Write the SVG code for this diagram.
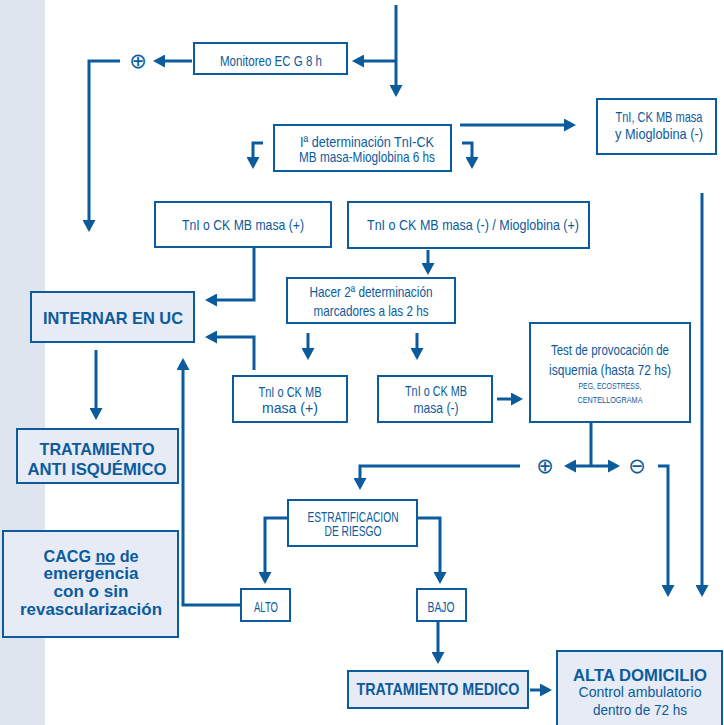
<svg xmlns="http://www.w3.org/2000/svg" width="724" height="725" viewBox="0 0 724 725">
<style>
.box{fill:#ffffff;stroke:#0b5b9d;stroke-width:2}
.fbox{fill:#e6ebf5;stroke:#0b5b9d;stroke-width:2}
.t{font-family:"Liberation Sans",Arial,sans-serif;font-size:15px;fill:#0b5b9d;text-anchor:middle}
.b{font-family:"Liberation Sans",Arial,sans-serif;font-weight:bold;font-size:17px;fill:#0b5b9d;text-anchor:middle}
.s{font-family:"Liberation Sans",Arial,sans-serif;font-size:9px;fill:#0b5b9d;text-anchor:middle}
.sym{font-family:"DejaVu Sans",sans-serif;font-size:21px;fill:#0b5b9d;text-anchor:middle}
.c{fill:none;stroke:#0b5b9d;stroke-width:3;marker-end:url(#ah)}
.cn{fill:none;stroke:#0b5b9d;stroke-width:3}
</style>
<defs>
<marker id="ah" markerUnits="userSpaceOnUse" markerWidth="13" markerHeight="13" refX="9" refY="6.5" orient="auto">
<path d="M0,0 L12,6.5 L0,13 z" fill="#0b5b9d"/>
</marker>
</defs>
<rect x="0" y="0" width="45" height="725" fill="#dfe5ef"/>

<g id="connectors">
<path class="cn" d="M396,5 V61"/>
<path class="c" d="M396,61 V94"/>
<path class="c" d="M396,61 H355"/>
<path class="c" d="M192,61 H156"/>
<path class="c" d="M120,61 H89 V229"/>
<path class="c" d="M263,143 H253 V166"/>
<path class="c" d="M462,143 H472 V166"/>
<path class="c" d="M460,125 H573"/>
<path class="c" d="M702,193 V594"/>
<path class="c" d="M254,248 V300 H208"/>
<path class="c" d="M428,250 V272"/>
<path class="c" d="M308,333 V357"/>
<path class="c" d="M417,333 V357"/>
<path class="c" d="M254,370 V337 H208"/>
<path class="c" d="M497,399 H520"/>
<path class="c" d="M96,350 V417"/>
<path class="cn" d="M591,422 V466"/>
<path class="c" d="M591,466 H567"/>
<path class="c" d="M591,466 H617"/>
<path class="c" d="M520,466 H360 V487"/>
<path class="c" d="M658,466 H668 V594"/>
<path class="c" d="M288,518 H265 V581"/>
<path class="c" d="M417,518 H440 V581"/>
<path class="c" d="M241,605 H183 V361"/>
<path class="c" d="M438,621 V661"/>
<path class="c" d="M530,690 H549"/>
<text class="sym" x="138" y="68">⊕</text>
<text class="sym" x="545" y="473">⊕</text>
<text class="sym" x="637" y="473">⊖</text>
</g>

<g id="monitoreo">
<rect class="box" x="194" y="43" width="153" height="31"/>
<text class="t" x="271" y="66" font-size="16" textLength="102" lengthAdjust="spacingAndGlyphs">Monitoreo EC G 8 h</text>
</g>

<g id="determinacion1">
<rect class="box" x="274" y="125" width="177" height="46"/>
<text class="t" x="367" y="147" textLength="134" lengthAdjust="spacingAndGlyphs">Iª  determinación  TnI-CK</text>
<text class="t" x="367" y="162" textLength="136" lengthAdjust="spacingAndGlyphs">MB masa-Mioglobina 6 hs</text>
</g>

<g id="negativos">
<rect class="box" x="597" y="99" width="119" height="55"/>
<text class="t" x="659" y="122" textLength="87" lengthAdjust="spacingAndGlyphs">TnI, CK MB masa</text>
<text class="t" x="659" y="139" textLength="88" lengthAdjust="spacingAndGlyphs">y Mioglobina (-)</text>
</g>

<g id="tni-pos">
<rect class="box" x="155" y="202" width="176" height="45"/>
<text class="t" x="243" y="230" font-size="16" textLength="122" lengthAdjust="spacingAndGlyphs">TnI o CK MB masa (+)</text>
</g>

<g id="tni-neg-mio-pos">
<rect class="box" x="348" y="202" width="241" height="46"/>
<text class="t" x="473" y="230" font-size="16" textLength="212" lengthAdjust="spacingAndGlyphs">TnI o CK MB masa (-) / Mioglobina (+)</text>
</g>

<g id="hacer2">
<rect class="box" x="287" y="278" width="168" height="45"/>
<text class="t" x="371" y="297" textLength="123" lengthAdjust="spacingAndGlyphs">Hacer 2ª determinación</text>
<text class="t" x="371" y="316" textLength="115" lengthAdjust="spacingAndGlyphs">marcadores a las 2 hs</text>
</g>

<g id="internar">
<rect class="fbox" x="31" y="292" width="163" height="50"/>
<text class="b" x="113" y="324" font-size="19" textLength="140" lengthAdjust="spacingAndGlyphs">INTERNAR EN UC</text>
</g>

<g id="tni2-pos">
<rect class="box" x="233" y="376" width="114" height="46"/>
<text class="t" x="290" y="397" textLength="63" lengthAdjust="spacingAndGlyphs">TnI o CK MB</text>
<text class="t" x="290" y="413" textLength="56" lengthAdjust="spacingAndGlyphs">masa (+)</text>
</g>

<g id="tni2-neg">
<rect class="box" x="378" y="376" width="114" height="46"/>
<text class="t" x="436" y="396" textLength="62" lengthAdjust="spacingAndGlyphs">TnI o CK MB</text>
<text class="t" x="436" y="413" textLength="45" lengthAdjust="spacingAndGlyphs">masa (-)</text>
</g>

<g id="test">
<rect class="box" x="530" y="323" width="160" height="99"/>
<text class="t" x="610" y="355" font-size="16" textLength="118" lengthAdjust="spacingAndGlyphs">Test de provocación de</text>
<text class="t" x="610" y="375" font-size="16" textLength="122" lengthAdjust="spacingAndGlyphs">isquemia (hasta 72 hs)</text>
<text class="s" x="610" y="389" textLength="63" lengthAdjust="spacingAndGlyphs">PEG, ECOSTRESS,</text>
<text class="s" x="610" y="403" textLength="65" lengthAdjust="spacingAndGlyphs">CENTELLOGRAMA</text>
</g>

<g id="tratamiento-anti">
<rect class="fbox" x="17" y="429" width="161" height="54"/>
<text class="b" x="97" y="455" textLength="115" lengthAdjust="spacingAndGlyphs">TRATAMIENTO</text>
<text class="b" x="97" y="475" textLength="139" lengthAdjust="spacingAndGlyphs">ANTI ISQUÉMICO</text>
</g>

<g id="estratificacion">
<rect class="box" x="288" y="500" width="129" height="46"/>
<text class="t" x="353" y="522" font-size="14" textLength="91" lengthAdjust="spacingAndGlyphs">ESTRATIFICACION</text>
<text class="t" x="353" y="536" font-size="14" textLength="57" lengthAdjust="spacingAndGlyphs">DE RIESGO</text>
</g>

<g id="cacg">
<rect class="fbox" x="3" y="531" width="175" height="106"/>
<text class="b" x="91" y="562" textLength="95" lengthAdjust="spacingAndGlyphs">CACG <tspan style="text-decoration:underline">no</tspan> de</text>
<text class="b" x="91" y="579" textLength="95" lengthAdjust="spacingAndGlyphs">emergencia</text>
<text class="b" x="91" y="597" textLength="75" lengthAdjust="spacingAndGlyphs">con o sin</text>
<text class="b" x="91" y="615" textLength="142" lengthAdjust="spacingAndGlyphs">revascularización</text>
</g>

<g id="alto">
<rect class="box" x="241" y="589" width="49" height="32"/>
<text class="t" x="266" y="612" textLength="24" lengthAdjust="spacingAndGlyphs">ALTO</text>
</g>

<g id="bajo">
<rect class="box" x="417" y="589" width="49" height="32"/>
<text class="t" x="441" y="612" textLength="27" lengthAdjust="spacingAndGlyphs">BAJO</text>
</g>

<g id="tratamiento-medico">
<rect class="fbox" x="348" y="671" width="180" height="37"/>
<text class="b" x="438" y="695" textLength="163" lengthAdjust="spacingAndGlyphs">TRATAMIENTO MEDICO</text>
</g>

<g id="alta">
<rect class="fbox" x="557" y="651" width="165" height="80"/>
<text class="b" x="640" y="681" textLength="134" lengthAdjust="spacingAndGlyphs">ALTA DOMICILIO</text>
<text class="t" x="640" y="697" textLength="123" lengthAdjust="spacingAndGlyphs">Control ambulatorio</text>
<text class="t" x="640" y="715" textLength="94" lengthAdjust="spacingAndGlyphs">dentro de 72 hs</text>
</g>
</svg>
